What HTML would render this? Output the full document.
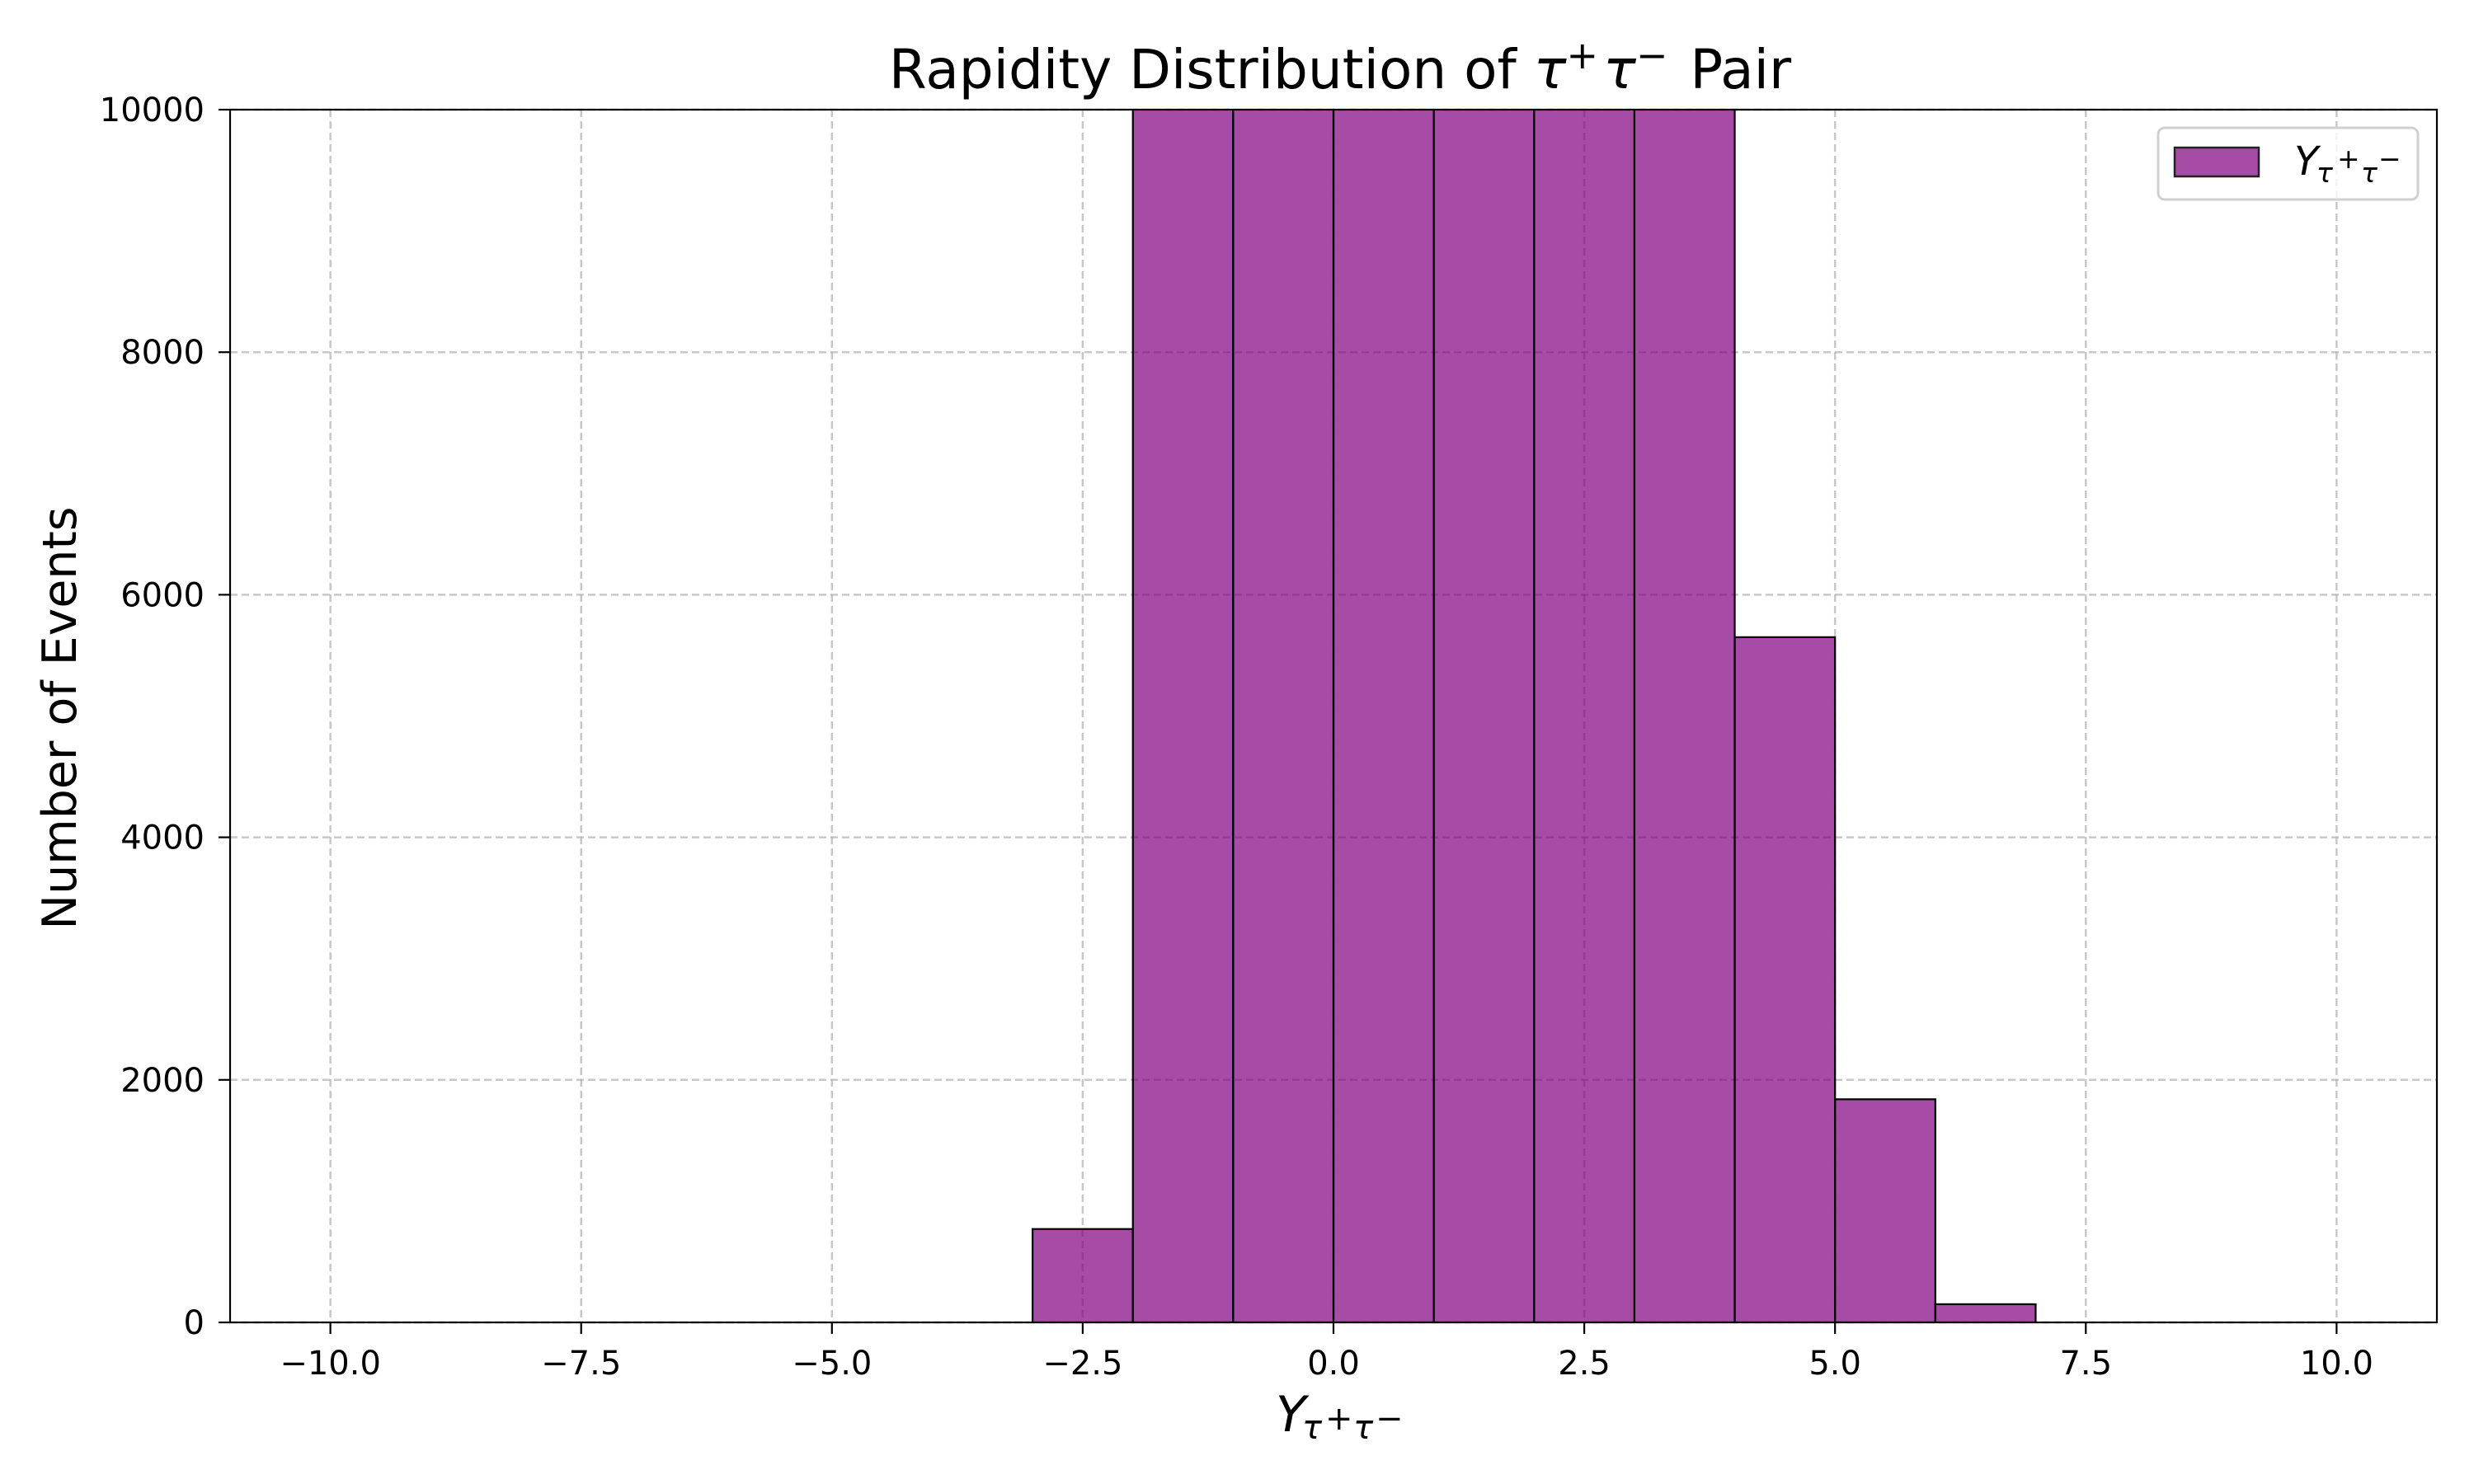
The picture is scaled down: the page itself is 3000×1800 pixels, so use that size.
<!DOCTYPE html>
<html><head><meta charset="utf-8"><style>
html,body{margin:0;padding:0;background:#fff;}
svg{display:block;font-family:"DejaVu Sans","Liberation Sans",sans-serif;}
</style></head><body>
<svg id="chart" width="3000" height="1800" viewBox="0 0 3000 1800" xmlns="http://www.w3.org/2000/svg">
<rect width="3000" height="1800" fill="#fff"/>
<defs><clipPath id="plotclip"><rect x="279" y="133" width="2676" height="1471"/></clipPath></defs>
<g id="grid"></g>
<g id="bars" clip-path="url(#plotclip)"></g>
<rect x="279" y="133" width="2676" height="1471" fill="none" stroke="#000" stroke-width="2.2"/>
<g id="ticks"></g>
<text x="1625" y="107" text-anchor="middle" font-size="66">Rapidity Distribution of <tspan font-style="italic">τ</tspan><tspan font-size="46" dy="-24">+</tspan><tspan font-style="italic" dy="24" dx="6">τ</tspan><tspan font-size="46" dy="-24">−</tspan><tspan dy="24" dx="6"> Pair</tspan></text>
<g>
<text x="1547" y="1736" font-size="60" font-style="italic">Y</text>
<text x="1579" y="1745" font-size="40" font-style="italic">τ</text>
<text x="1607" y="1734" font-size="40">+</text>
<text x="1641" y="1745" font-size="40" font-style="italic">τ</text>
<text x="1668" y="1734" font-size="40">−</text>
</g>
<text transform="translate(92,871) rotate(-90)" text-anchor="middle" font-size="57">Number of Events</text>
<g>
<rect x="2617" y="155" width="315" height="87" rx="8" fill="#fff" fill-opacity="0.8" stroke="#d0d0d0" stroke-width="3"/>
<rect x="2637" y="179" width="102" height="35" fill="#800080" fill-opacity="0.7" stroke="#222" stroke-width="2.5"/>
<g>
<text x="2782" y="212" font-size="48" font-style="italic">Y</text>
<text x="2809" y="221" font-size="33" font-style="italic">τ</text>
<text x="2834" y="204" font-size="33">+</text>
<text x="2863" y="221" font-size="33" font-style="italic">τ</text>
<text x="2884" y="204" font-size="33">−</text>
</g>
</g>
</svg>
<script>
const binEdgesStart = [-10,-9,-8,-7,-6,-5,-4,-3,-2,-1,0,1,2,3,4,5,6,7,8,9];
const binCounts = [0,0,0,0,0,0,0,770,14000,16000,17000,16500,15500,13000,5650,1840,150,0,0,0];
const xTicks = [-10,-7.5,-5,-2.5,0,2.5,5,7.5,10];
const xTickLabels = ["−10.0","−7.5","−5.0","−2.5","0.0","2.5","5.0","7.5","10.0"];
const yTicks = [0,2000,4000,6000,8000,10000];
const yTickLabels = ["0","2000","4000","6000","8000","10000"];
const binWidth = 1;
const NS="http://www.w3.org/2000/svg";
const L=279,R=2955,T=133,B=1604;
const xmin=-11,xmax=11,ymin=0,ymax=10000;
const sx=v=>L+(v-xmin)/(xmax-xmin)*(R-L);
const sy=v=>B-(v-ymin)/(ymax-ymin)*(B-T);
function mk(tag,attrs,parent){const e=document.createElementNS(NS,tag);for(const k in attrs)e.setAttribute(k,attrs[k]);parent.appendChild(e);return e;}
const grid=document.getElementById('grid'),bars=document.getElementById('bars'),ticks=document.getElementById('ticks');
xTicks.forEach((t,i)=>{
  const g=mk('line',{x1:sx(t),x2:sx(t),y1:T,y2:B,stroke:'#b0b0b0','stroke-opacity':0.7,'stroke-width':2.5,'stroke-dasharray':'9,5'},grid);
  
  
  const tk=mk('line',{x1:sx(t),x2:sx(t),y1:B,y2:B+14,stroke:'#000','stroke-width':2.2},ticks);
  
  
  const tx=mk('text',{x:sx(t),y:B+63,'text-anchor':'middle','font-size':40},ticks);
  tx.textContent=xTickLabels[i];
  
  
});
yTicks.forEach((t,i)=>{
  const g=mk('line',{x1:L,x2:R,y1:sy(t),y2:sy(t),stroke:'#b0b0b0','stroke-opacity':0.7,'stroke-width':2.5,'stroke-dasharray':'9,5'},grid);
  
  
  const tk=mk('line',{x1:L-14,x2:L,y1:sy(t),y2:sy(t),stroke:'#000','stroke-width':2.2},ticks);
  
  
  const tx=mk('text',{x:L-31,y:sy(t)+14,'text-anchor':'end','font-size':40},ticks);
  tx.textContent=yTickLabels[i];
  
  
});
binEdgesStart.forEach((s,i)=>{
  const x0=sx(s),x1=sx(s+binWidth),y=sy(binCounts[i]);
  const r=mk('rect',{x:x0,y:y,width:x1-x0,height:B-y,fill:'#800080','fill-opacity':0.7,stroke:'#000','stroke-width':2.2},bars);
  
  
});
</script>
</body></html>
